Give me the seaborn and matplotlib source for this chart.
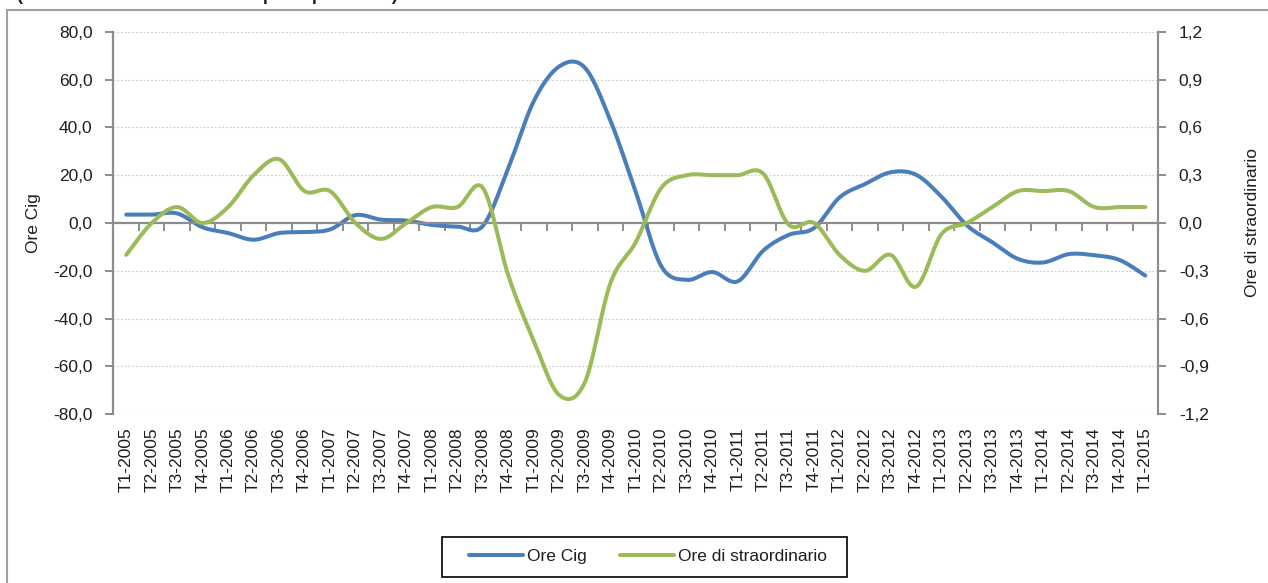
import numpy as np
import pandas as pd
import matplotlib
matplotlib.use("Agg")
import matplotlib.pyplot as plt
import matplotlib.patches as mpatches
from matplotlib.lines import Line2D
import seaborn as sns

# ---- data -----------------------------------------------------------------
quarters = [f"T{q}-{y}" for y in range(2005, 2016) for q in range(1, 5)][:41]

ore_cig = [3.5, 3.5, 4.0, -1.8, -4.2, -7.0, -4.2, -3.8, -2.7, 3.3,
           1.4, 1.0, -0.8, -1.5, -1.2, 23.0, 51.0, 65.5, 65.0, 43.0,
           13.0, -18.0, -23.8, -20.5, -24.4, -11.6, -5.0, -2.1, 10.7, 16.3,
           21.2, 20.2, 11.0, -1.0, -8.1, -15.0, -16.5, -13.0, -13.5, -15.5,
           -22.0]

ore_straord = [-0.20, 0.00, 0.10, 0.00, 0.10, 0.30, 0.40, 0.20, 0.20, 0.00,
               -0.10, 0.00, 0.10, 0.10, 0.22, -0.33, -0.74, -1.08, -1.00, -0.38,
               -0.12, 0.22, 0.30, 0.30, 0.30, 0.31, -0.01, 0.00, -0.20, -0.30,
               -0.20, -0.40, -0.07, 0.00, 0.10, 0.20, 0.20, 0.20, 0.10, 0.10,
               0.10]

series_names = ["Ore Cig", "Ore di straordinario"]
left_ticks = [-80, -60, -40, -20, 0, 20, 40, 60, 80]
right_ticks = [-1.2, -0.9, -0.6, -0.3, 0.0, 0.3, 0.6, 0.9, 1.2]

BLUE = "#4A7EBB"
GREEN = "#9BBB59"
AXIS_GREY = "#8C8C8C"
TEXT = "#1E1E1E"
FS = 12.5


def smooth_curve(values, steps=24):
    """Sample a Catmull-Rom (Excel style) smoothed curve through the points."""
    y = np.asarray(values, dtype=float)
    x = np.arange(len(y), dtype=float)
    n = len(y)
    xs, ys = [], []
    t = np.linspace(0, 1, steps, endpoint=False)
    for i in range(n - 1):
        i0, i3 = max(i - 1, 0), min(i + 2, n - 1)
        p0 = np.array([x[i0], y[i0]])
        p1 = np.array([x[i], y[i]])
        p2 = np.array([x[i + 1], y[i + 1]])
        p3 = np.array([x[i3], y[i3]])
        b1 = p1 + (p2 - p0) / 6.0
        b2 = p2 - (p3 - p1) / 6.0
        tt = t[:, None]
        pts = ((1 - tt) ** 3) * p1 + 3 * ((1 - tt) ** 2) * tt * b1 \
            + 3 * (1 - tt) * tt ** 2 * b2 + tt ** 3 * p2
        xs.append(pts[:, 0])
        ys.append(pts[:, 1])
    xs.append([x[-1]])
    ys.append([y[-1]])
    return pd.DataFrame({"x": np.concatenate(xs), "y": np.concatenate(ys)})


def comma(v, _=None):
    return f"{v:.1f}".replace(".", ",")


# ---- style ----------------------------------------------------------------
sns.set_theme(style="white")
plt.rcParams["font.family"] = ["Liberation Sans", "DejaVu Sans"]
plt.rcParams["font.size"] = FS

fig = plt.figure(figsize=(12.68, 5.83), dpi=100)
ax = fig.add_axes([0.0895, 0.2894, 0.82375, 0.6562])
ax2 = ax.twinx()

# ---- curves -----------------------------------------------------------------
sns.lineplot(data=smooth_curve(ore_cig), x="x", y="y", ax=ax, color=BLUE,
             linewidth=2.9, estimator=None, sort=False, legend=False)
sns.lineplot(data=smooth_curve(ore_straord), x="x", y="y", ax=ax2, color=GREEN,
             linewidth=2.9, estimator=None, sort=False, legend=False)

# ---- axes -------------------------------------------------------------------
n = len(quarters)
ax.set_xlim(-0.5, n - 0.5)
ax.set_ylim(-80, 80)
ax2.set_ylim(-1.2, 1.2)

for a in (ax, ax2):
    a.set_xlabel("")
    a.set_ylabel("")
    a.spines["top"].set_visible(False)
ax2.spines["bottom"].set_visible(False)
ax2.spines["left"].set_visible(False)
ax.spines["right"].set_visible(False)

for sp in (ax.spines["left"], ax2.spines["right"]):
    sp.set_color(AXIS_GREY)
    sp.set_linewidth(1.6)

ax.spines["bottom"].set_position(("data", 0))
ax.spines["bottom"].set_color(AXIS_GREY)
ax.spines["bottom"].set_linewidth(1.6)

# horizontal dotted grid at the left-axis ticks
for v in left_ticks:
    if v != 0:
        ax.axhline(v, color="#CFCFCF", linewidth=0.9, linestyle=(0, (1.5, 1.5)), zorder=0)

ax.set_yticks(left_ticks)
ax.yaxis.set_major_formatter(plt.FuncFormatter(comma))
ax.tick_params(axis="y", direction="out", length=6, width=1.4, color=AXIS_GREY,
               labelcolor=TEXT, labelsize=FS, pad=9, left=True)

ax2.set_yticks(right_ticks)
ax2.yaxis.set_major_formatter(plt.FuncFormatter(comma))
ax2.tick_params(axis="y", direction="out", length=6, width=1.4, color=AXIS_GREY,
                labelcolor=TEXT, labelsize=FS, pad=9, right=True)

# category boundaries as tick marks on the zero line, labels at the bottom
ax.set_xticks(np.arange(-0.5, n, 1.0))
ax.set_xticklabels([])
ax.tick_params(axis="x", which="major", direction="out", length=6, width=1.4,
               color=AXIS_GREY, bottom=True)
ax.set_xticks(np.arange(n), quarters, minor=True)
ax.tick_params(axis="x", which="minor", length=0, pad=147, labelsize=FS,
               labelcolor=TEXT, labelrotation=90)
ax2.tick_params(axis="x", which="both", bottom=False, labelbottom=False)

ax.set_ylabel("Ore Cig", fontsize=FS, color=TEXT, va="center")
ax.yaxis.set_label_coords(-0.0761, 0.5)
ax2.set_ylabel("Ore di straordinario", fontsize=FS, color=TEXT, va="center", rotation=90)
ax2.yaxis.set_label_coords(1.090, 0.5)

# ---- legend ----------------------------------------------------------------
handles = [Line2D([], [], color=BLUE, linewidth=2.9),
           Line2D([], [], color=GREEN, linewidth=2.9)]
fig.legend(handles, series_names, loc="center", bbox_to_anchor=(0.511, 0.045),
           ncol=2, frameon=False, handlelength=3.1, handletextpad=0.25,
           columnspacing=1.9, fontsize=FS, labelcolor=TEXT)
W, H = 1268.0, 583.0
fig.add_artist(mpatches.Rectangle((441.7 / W, 1 - 576.7 / H), 405 / W, 40 / H,
                                  transform=fig.transFigure, fill=False,
                                  edgecolor="black", linewidth=1.2))

# outer chart frame and the heading above it
fig.add_artist(Line2D([7 / W, 7 / W], [0, 1 - 10 / H], transform=fig.transFigure,
                      color="#A0A0A8", linewidth=1.5))
fig.add_artist(Line2D([7 / W, 1], [1 - 10 / H, 1 - 10 / H], transform=fig.transFigure,
                      color="#A0A0A8", linewidth=1.5))
fig.text(17 / W, 1.0, "(variazioni tendenziali in ore per dipendente)",
         ha="left", va="baseline", fontsize=13, fontweight="bold", color=TEXT)

fig.savefig("out.png", dpi=100)
